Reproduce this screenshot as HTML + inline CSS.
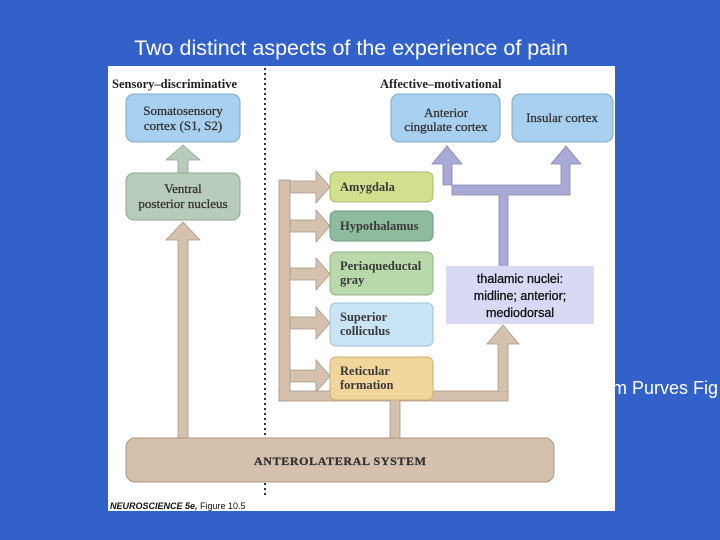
<!DOCTYPE html>
<html><head><style>
html,body{margin:0;padding:0;width:720px;height:540px;overflow:hidden;background:#3262c9;}
</style></head><body>
<svg width="720" height="540" xmlns="http://www.w3.org/2000/svg" style="position:absolute;left:0;top:0">
<rect width="720" height="540" fill="#3262c9"/>
<text x="351" y="55" fill="#fff" font-family="Liberation Sans, sans-serif" font-size="21.5" text-anchor="middle">Two distinct aspects of the experience of pain</text>
<text x="596" y="394" font-family="Liberation Sans, sans-serif" font-size="18" fill="#fff">rom Purves Fig</text>
<rect x="108" y="66" width="507" height="445" fill="#fff"/>
<g font-family="Liberation Serif, serif" font-weight="bold" font-size="12.5" fill="#222">
<text x="112" y="88">Sensory–discriminative</text>
<text x="380" y="88">Affective–motivational</text>
</g>
<line x1="265" y1="68" x2="265" y2="496" stroke="#333" stroke-width="2" stroke-dasharray="2,3"/>
<g fill="#d5c1ad" stroke="#a89886" stroke-width="0.8">
<polygon points="178,440 178,240 166,240 183,222 200,240 188,240 188,440"/>
<rect x="279" y="180" width="11" height="221"/>
<rect x="279" y="391" width="229" height="10"/>
<rect x="390" y="400" width="10" height="40"/>
<polygon points="498,392 498,344 487,344 503,325 519,344 508,344 508,392"/>
<polygon points="290,181 316,181 316,171 330,187 316,203 316,193 290,193"/>
<polygon points="290,220 316,220 316,210 330,226 316,242 316,232 290,232"/>
<polygon points="290,268 316,268 316,258 330,274 316,290 316,280 290,280"/>
<polygon points="290,317 316,317 316,307 330,323 316,339 316,329 290,329"/>
<polygon points="290,370 316,370 316,360 330,376 316,392 316,382 290,382"/>
</g>
<rect x="280" y="182" width="9" height="218" fill="#d5c1ad"/>
<rect x="280" y="392" width="227" height="8" fill="#d5c1ad"/>
<polygon points="178,174 178,160 166,160 183,145 200,160 188,160 188,174" fill="#b9cbba" stroke="#92a594" stroke-width="0.8"/>
<g fill="#a9a9d6" stroke="#8686b6" stroke-width="0.8">
<polygon points="499,268 499,195 452,195 452,164 462,164 447,146 432,164 443,164 443,185 561,185 561,164 551,164 566,146 581,164 570,164 570,195 508,195 508,268"/>
</g>
<g stroke-width="1">
<rect x="126" y="94" width="114" height="48" rx="8" fill="#a8d1f1" stroke="#7fa8c8"/>
<rect x="126" y="173" width="114" height="47" rx="8" fill="#b9cbba" stroke="#92a594"/>
<rect x="391" y="94" width="109" height="48" rx="8" fill="#a8d1f1" stroke="#7fa8c8"/>
<rect x="512" y="94" width="101" height="48" rx="8" fill="#a8d1f1" stroke="#7fa8c8"/>
<rect x="330" y="172" width="103" height="30" rx="6" fill="#d0e08c" stroke="#a8b870"/>
<rect x="330" y="211" width="103" height="30" rx="6" fill="#8dbb9d" stroke="#6e9a80"/>
<rect x="330" y="252" width="103" height="43" rx="6" fill="#b8d9a9" stroke="#90b084"/>
<rect x="330" y="303" width="103" height="43" rx="6" fill="#c9e5f5" stroke="#9cc0d6"/>
<rect x="330" y="357" width="103" height="43" rx="6" fill="#f1d59b" stroke="#c8ad78"/>
<rect x="126" y="438" width="428" height="44" rx="9" fill="#d5c1ad" stroke="#a89886"/>
</g>
<rect x="446" y="266" width="148" height="58" fill="#d9d9f5"/>
<g font-family="Liberation Serif, serif" font-size="13" fill="#333" text-anchor="middle" stroke="#333" stroke-width="0.3">
<text x="183" y="115">Somatosensory</text><text x="183" y="130">cortex (S1, S2)</text>
<text x="183" y="193">Ventral</text><text x="183" y="208">posterior nucleus</text>
<text x="446" y="117">Anterior</text><text x="446" y="131">cingulate cortex</text>
<text x="562" y="122">Insular cortex</text>
<text x="340" y="465" font-size="12" font-weight="bold" textLength="172">ANTEROLATERAL SYSTEM</text>
</g>
<g font-family="Liberation Serif, serif" font-size="12.5" font-weight="bold" fill="#3a3a3a">
<text x="340" y="191">Amygdala</text>
<text x="340" y="230">Hypothalamus</text>
<text x="340" y="270">Periaqueductal</text><text x="340" y="284">gray</text>
<text x="340" y="321">Superior</text><text x="340" y="335">colliculus</text>
<text x="340" y="375">Reticular</text><text x="340" y="389">formation</text>
</g>
<g font-family="Liberation Sans, sans-serif" font-size="12.5" fill="#111" text-anchor="middle" stroke="#111" stroke-width="0.3">
<text x="520" y="283">thalamic nuclei:</text>
<text x="520" y="300">midline; anterior;</text>
<text x="520" y="317">mediodorsal</text>
</g>
<text x="110" y="509" font-family="Liberation Sans, sans-serif" font-size="9" fill="#111"><tspan font-style="italic" font-weight="bold">NEUROSCIENCE 5e,</tspan> Figure 10.5</text>
</svg>
</body></html>
